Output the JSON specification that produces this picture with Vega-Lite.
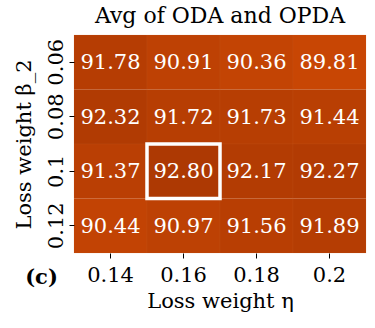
{
  "$schema": "https://vega.github.io/schema/vega-lite/v6.json",
  "autosize": {"type": "none"},
  "width": 292,
  "height": 218,
  "padding": {"left": 74, "top": 35, "right": 9, "bottom": 75},
  "background": "white",
  "title": {"text": "Avg of ODA and OPDA", "font": "DejaVu Serif", "fontSize": 22, "fontWeight": "normal", "color": "black", "offset": 7, "anchor": "middle"},
  "config": {"view": {"stroke": null}, "font": "DejaVu Serif"},
  "data": {"values": [
    {"eta": "0.14", "beta": "0.06", "v": 91.78, "best": false},
    {"eta": "0.16", "beta": "0.06", "v": 90.91, "best": false},
    {"eta": "0.18", "beta": "0.06", "v": 90.36, "best": false},
    {"eta": "0.2", "beta": "0.06", "v": 89.81, "best": false},
    {"eta": "0.14", "beta": "0.08", "v": 92.32, "best": false},
    {"eta": "0.16", "beta": "0.08", "v": 91.72, "best": false},
    {"eta": "0.18", "beta": "0.08", "v": 91.73, "best": false},
    {"eta": "0.2", "beta": "0.08", "v": 91.44, "best": false},
    {"eta": "0.14", "beta": "0.1", "v": 91.37, "best": false},
    {"eta": "0.16", "beta": "0.1", "v": 92.80, "best": true},
    {"eta": "0.18", "beta": "0.1", "v": 92.17, "best": false},
    {"eta": "0.2", "beta": "0.1", "v": 92.27, "best": false},
    {"eta": "0.14", "beta": "0.12", "v": 90.44, "best": false},
    {"eta": "0.16", "beta": "0.12", "v": 90.97, "best": false},
    {"eta": "0.18", "beta": "0.12", "v": 91.56, "best": false},
    {"eta": "0.2", "beta": "0.12", "v": 91.89, "best": false}
  ]},
  "encoding": {
    "x": {"field": "eta", "type": "ordinal", "sort": ["0.14", "0.16", "0.18", "0.2"],
      "scale": {"paddingInner": 0, "paddingOuter": 0},
      "axis": {"title": "Loss weight η", "titleFont": "DejaVu Serif", "titleFontSize": 21, "titleFontWeight": "normal", "titleColor": "black", "titlePadding": 5,
        "labelFont": "DejaVu Serif", "labelFontSize": 21, "labelColor": "black", "labelAngle": 0, "labelPadding": 6,
        "domain": false, "ticks": true, "tickColor": "black", "tickSize": 5, "tickWidth": 1}},
    "y": {"field": "beta", "type": "ordinal", "sort": ["0.06", "0.08", "0.1", "0.12"],
      "scale": {"paddingInner": 0, "paddingOuter": 0},
      "axis": {"title": "Loss weight β_2", "titleFont": "DejaVu Serif", "titleFontSize": 21, "titleFontWeight": "normal", "titleColor": "black", "titlePadding": 11,
        "labelFont": "DejaVu Serif", "labelFontSize": 21, "labelColor": "black", "labelAngle": 270, "labelAlign": "center", "labelBaseline": "bottom", "labelPadding": 3,
        "domain": false, "ticks": true, "tickColor": "black", "tickSize": 5, "tickWidth": 1}}
  },
  "layer": [
    {"mark": {"type": "rect", "stroke": "#d06a30", "strokeWidth": 0.3, "strokeOpacity": 0.4},
      "encoding": {"color": {"field": "v", "type": "quantitative", "legend": null,
        "scale": {"domain": [89.81, 92.80], "range": ["#c84604", "#ad3903"]}}}},
    {"transform": [{"filter": "datum.best"}],
      "mark": {"type": "rect", "fill": null, "fillOpacity": 0, "stroke": "white", "strokeWidth": 3.5}},
    {"mark": {"type": "text", "font": "DejaVu Serif", "fontSize": 21, "color": "white", "baseline": "middle", "dy": 1},
      "encoding": {"text": {"field": "v", "type": "quantitative", "format": ".2f"}}},
    {"transform": [{"filter": "datum.eta == '0.14' && datum.beta == '0.12'"}],
      "mark": {"type": "text", "font": "DejaVu Serif", "fontSize": 21, "fontWeight": "bold", "color": "black", "dx": -69, "dy": 52},
      "encoding": {"text": {"value": "(c)"}}}
  ]
}
